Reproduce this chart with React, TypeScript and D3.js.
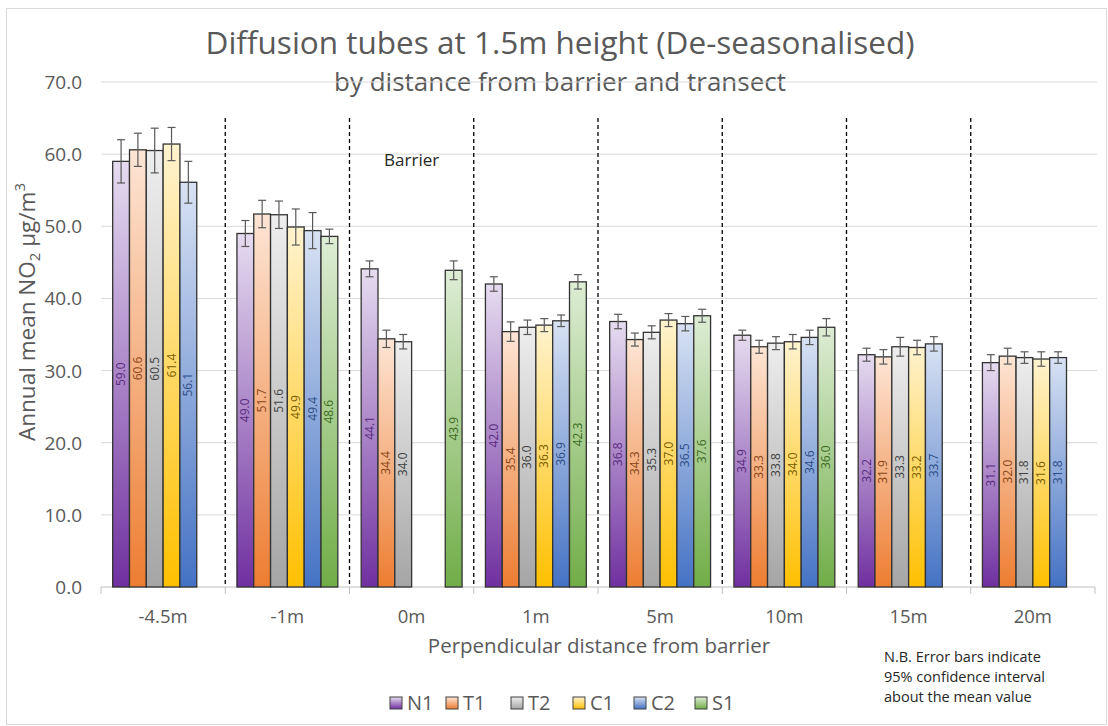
import React from "react";
import * as d3 from "d3";

const categories = ["-4.5m", "-1m", "0m", "1m", "5m", "10m", "15m", "20m"];
const seriesNames = ["N1", "T1", "T2", "C1", "C2", "S1"];

// values per series across categories (null = no bar)
const N1 = [59.0, 49.0, 44.1, 42.0, 36.8, 34.9, 32.2, 31.1];
const T1 = [60.6, 51.7, 34.4, 35.4, 34.3, 33.3, 31.9, 32.0];
const T2 = [60.5, 51.6, 34.0, 36.0, 35.3, 33.8, 33.3, 31.8];
const C1 = [61.4, 49.9, null, 36.3, 37.0, 34.0, 33.2, 31.6];
const C2 = [56.1, 49.4, null, 36.9, 36.5, 34.6, 33.7, 31.8];
const S1 = [null, 48.6, 43.9, 42.3, 37.6, 36.0, null, null];

// 95% confidence half-widths
const N1err = [3.0, 1.8, 1.1, 1.0, 1.0, 0.7, 0.9, 1.1];
const T1err = [2.3, 1.9, 1.2, 1.35, 0.9, 0.9, 1.0, 1.1];
const T2err = [3.1, 1.9, 1.0, 1.0, 0.9, 0.9, 1.3, 0.8];
const C1err = [2.3, 2.5, null, 0.9, 0.9, 1.0, 1.0, 1.0];
const C2err = [2.9, 2.5, null, 0.8, 1.0, 1.0, 1.0, 0.8];
const S1err = [null, 1.0, 1.3, 1.0, 0.9, 1.2, null, null];

const yTicks = [0, 10, 20, 30, 40, 50, 60, 70];

const seriesValues = [N1, T1, T2, C1, C2, S1];
const seriesErrors = [N1err, T1err, T2err, C1err, C2err, S1err];

const lightColors = ["#e6dcf0", "#fde5d5", "#eeeeee", "#fff3cf", "#d8e2f3", "#deedd5"];
const darkColors = ["#7030a0", "#ed7d31", "#a5a5a5", "#ffc000", "#4472c4", "#70ad47"];
const labelColors = ["#5a2a80", "#8a4516", "#404040", "#7a5c00", "#2b4c85", "#3b6b22"];
const legendX = [390, 446, 511, 573, 634, 695];

const W = 1108;
const H = 726;
const FONT = "'Open Sans', 'Noto Sans', sans-serif";

export default function App() {
  const y = d3.scaleLinear().domain([0, 70]).range([587, 82]);
  const x = d3.scaleBand<string>().domain(categories).range([101, 1095]).padding(0);
  const bw = x.bandwidth();
  const inner = d3
    .scaleBand<string>()
    .domain(seriesNames)
    .range([bw * 0.094, bw * 0.906])
    .padding(0);
  const barW = inner.bandwidth();
  const boundaries = d3.range(categories.length + 1).map((i) => 101 + i * bw);

  return (
    <svg
      width={W}
      height={H}
      style={{ position: "absolute", left: 0, top: 0, background: "#fff" }}
      fontFamily={FONT}
    >
      <defs>
        {seriesNames.map((s, i) => (
          <linearGradient key={s} id={`g-${s}`} x1="0" y1="0" x2="0" y2="1">
            <stop offset="0%" stopColor={lightColors[i]} />
            <stop offset="100%" stopColor={darkColors[i]} />
          </linearGradient>
        ))}
      </defs>
      <rect x={6.5} y={8.5} width={1100} height={716} fill="#fff" stroke="#d9d9d9" />

      {/* title */}
      <text x={560} y={54} textAnchor="middle" fontSize={31.5} fill="#595959">
        Diffusion tubes at 1.5m height (De-seasonalised)
      </text>
      <text x={560} y={91} textAnchor="middle" fontSize={26} fill="#595959">
        by distance from barrier and transect
      </text>

      {/* gridlines */}
      {yTicks.map((t) => (
        <g key={t}>
          {t > 0 && (
            <line x1={101} x2={1097} y1={y(t)} y2={y(t)} stroke="#d9d9d9" strokeWidth={1} />
          )}
          <text x={82} y={y(t) + 7} textAnchor="end" fontSize={19} fill="#595959">
            {t.toFixed(1)}
          </text>
        </g>
      ))}

      {/* x axis */}
      <line x1={101} x2={1095} y1={y(0)} y2={y(0)} stroke="#bfbfbf" strokeWidth={1} />
      {boundaries.map((b, i) => (
        <line key={i} x1={b} x2={b} y1={y(0)} y2={y(0) + 7} stroke="#bfbfbf" />
      ))}

      {/* dashed separators */}
      {boundaries.slice(1, -1).map((b, i) => (
        <line
          key={i}
          x1={b}
          x2={b}
          y1={y(65)}
          y2={y(0)}
          stroke="#000"
          strokeWidth={1.3}
          strokeDasharray="4,3"
        />
      ))}

      {/* bars */}
      {categories.map((c, ci) => (
        <g key={c} transform={`translate(${x(c)},0)`}>
          {seriesNames.map((s, si) => {
            const v = seriesValues[si][ci];
            if (v == null) return null;
            const bx = inner(s)!;
            return (
              <rect
                key={s}
                x={bx}
                y={y(v)}
                width={barW}
                height={y(0) - y(v)}
                fill={`url(#g-${s})`}
                stroke="#333"
                strokeWidth={1.3}
              />
            );
          })}
          {seriesNames.map((s, si) => {
            const v = seriesValues[si][ci];
            const e = seriesErrors[si][ci];
            if (v == null || e == null) return null;
            const cx = inner(s)! + barW / 2;
            return (
              <g key={s} stroke="#595959" strokeWidth={1.2}>
                <line x1={cx} x2={cx} y1={y(v + e)} y2={y(v - e)} />
                <line x1={cx - 4} x2={cx + 4} y1={y(v + e)} y2={y(v + e)} />
                <line x1={cx - 4} x2={cx + 4} y1={y(v - e)} y2={y(v - e)} />
              </g>
            );
          })}
          {seriesNames.map((s, si) => {
            const v = seriesValues[si][ci];
            if (v == null) return null;
            const cx = inner(s)! + barW / 2;
            const cy = y(v / 2);
            return (
              <text
                key={s}
                transform={`translate(${cx + 4},${cy}) rotate(-90)`}
                textAnchor="middle"
                fontSize={12}
                fill={labelColors[si]}
              >
                {v.toFixed(1)}
              </text>
            );
          })}
          <text
            x={bw / 2}
            y={623}
            textAnchor="middle"
            fontSize={18.5}
            fill="#595959"
          >
            {c}
          </text>
        </g>
      ))}

      <text x={x("0m")! + bw / 2} y={166} textAnchor="middle" fontSize={17} fill="#262626">
        Barrier
      </text>

      {/* y axis title */}
      <text
        transform={`translate(35,${312}) rotate(-90)`}
        textAnchor="middle"
        fontSize={22.5}
        fill="#595959"
      >
        Annual mean NO
        <tspan fontSize={15} dy={5}>2</tspan>
        <tspan dy={-5}> μg/m</tspan>
        <tspan fontSize={15} dy={-10}>3</tspan>
      </text>

      {/* x axis title */}
      <text x={599} y={653} textAnchor="middle" fontSize={20.5} fill="#595959">
        Perpendicular distance from barrier
      </text>

      {/* legend */}
      {seriesNames.map((s, i) => {
        const lx = legendX[i];
        return (
          <g key={s}>
            <rect x={lx} y={697} width={12} height={12} fill={`url(#g-${s})`} stroke="#404040" />
            <text x={lx + 17} y={710} fontSize={20} fill="#595959">
              {s}
            </text>
          </g>
        );
      })}

      {/* note */}
      <g fontSize={14.5} fill="#262626">
        <text x={884} y={662}>N.B. Error bars indicate</text>
        <text x={884} y={682}>95% confidence interval</text>
        <text x={884} y={702}>about the mean value</text>
      </g>
    </svg>
  );
}
